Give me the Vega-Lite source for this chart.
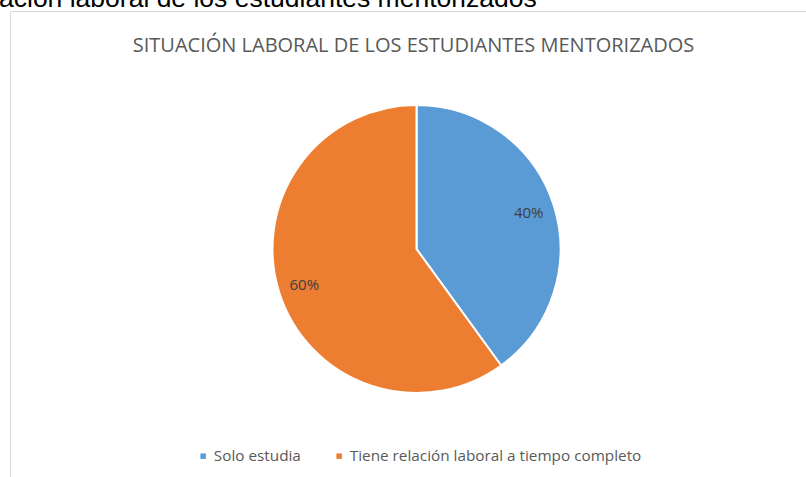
{
  "$schema": "https://vega.github.io/schema/vega-lite/v6.json",
  "width": 796,
  "height": 466,
  "autosize": {"type": "none"},
  "padding": {"left": 10.5, "top": 11.5, "right": 0, "bottom": 0},
  "background": "white",
  "data": {
    "values": [
      {"situacion": "Solo estudia", "porcentaje": 40, "etiqueta": "40%"},
      {"situacion": "Tiene relación laboral a tiempo completo", "porcentaje": 60, "etiqueta": "60%"}
    ]
  },
  "layer": [
    {
      "data": {"values": [{"marco": "borde"}]},
      "mark": {"type": "rect", "fill": "transparent", "stroke": "#d9d9d9", "strokeWidth": 1},
      "encoding": {}
    },
    {
      "mark": {"type": "arc", "outerRadius": 144, "stroke": "white", "strokeWidth": 2, "xOffset": 8, "yOffset": 4.5},
      "encoding": {
        "theta": {"field": "porcentaje", "type": "quantitative", "stack": true},
        "color": {
          "field": "situacion",
          "type": "nominal",
          "scale": {
            "domain": ["Solo estudia", "Tiene relación laboral a tiempo completo"],
            "range": ["#5B9BD5", "#ED7D31"]
          },
          "legend": {
            "orient": "none",
            "legendX": 185,
            "legendY": 437,
            "direction": "horizontal",
            "title": null,
            "symbolType": "square",
            "symbolSize": 30,
            "symbolStrokeWidth": 0,
            "labelFont": "Open Sans",
            "labelFontSize": 15.3,
            "labelColor": "#595959",
            "labelLimit": 500,
            "labelOffset": 3,
            "columnPadding": 30,
            "padding": 0
          }
        }
      }
    },
    {
      "mark": {"type": "text", "radius": 118, "xOffset": 8, "yOffset": 4.5, "font": "Open Sans", "fontSize": 15, "color": "#404040", "align": "center", "baseline": "middle"},
      "encoding": {
        "theta": {"field": "porcentaje", "type": "quantitative", "stack": true},
        "detail": {"field": "situacion", "type": "nominal"},
        "text": {"field": "etiqueta", "type": "nominal"}
      }
    },
    {
      "data": {"values": [{"titulo": "SITUACIÓN LABORAL DE LOS ESTUDIANTES MENTORIZADOS"}]},
      "mark": {"type": "text", "dx": 5, "dy": -199, "font": "Open Sans", "fontSize": 20, "color": "#595959", "align": "center", "baseline": "middle"},
      "encoding": {"text": {"field": "titulo", "type": "nominal"}}
    },
    {
      "data": {"values": [{"encabezado": "ación laboral de los estudiantes mentorizados"}]},
      "mark": {"type": "text", "dx": -409.5, "dy": -238, "font": "Liberation Sans", "fontSize": 26.5, "color": "#000000", "align": "left", "baseline": "alphabetic"},
      "encoding": {"text": {"field": "encabezado", "type": "nominal"}}
    }
  ]
}
